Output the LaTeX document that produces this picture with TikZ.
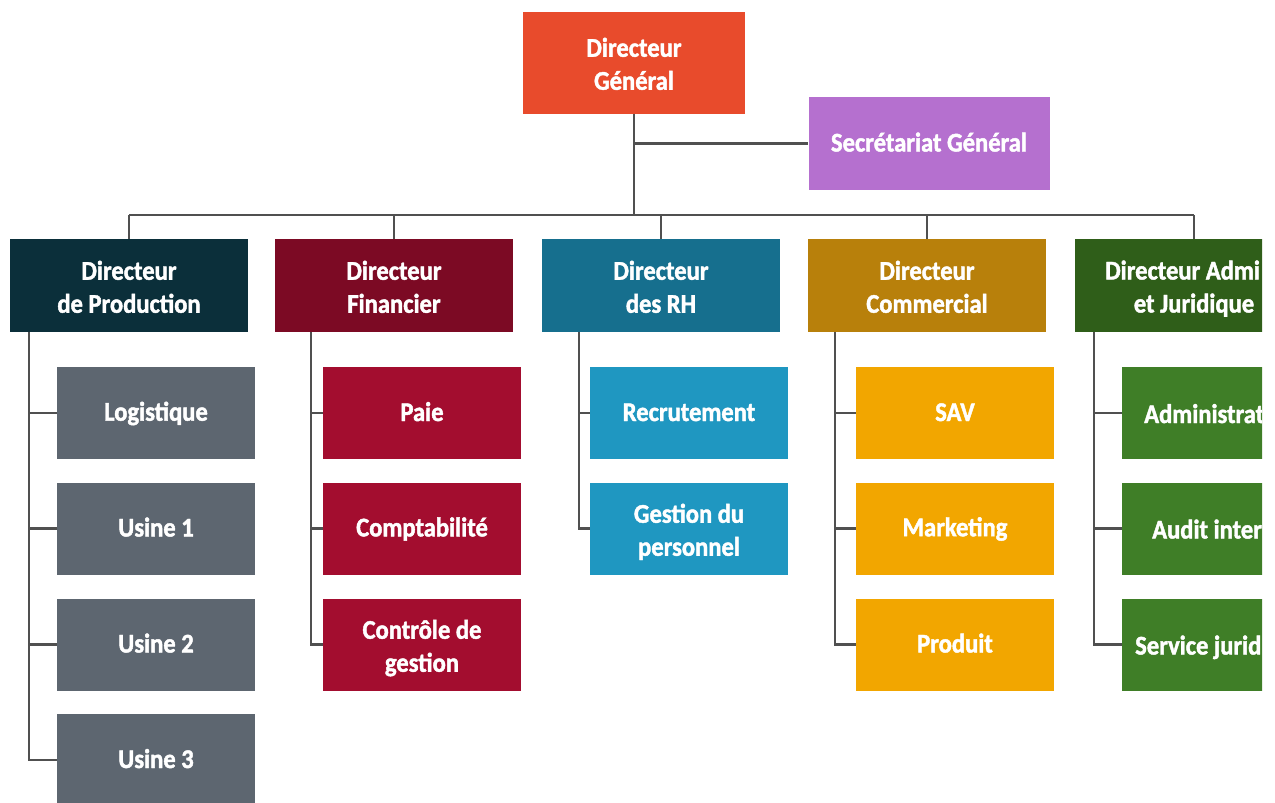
\documentclass[tikz,border=0pt]{standalone}
\usepackage{fontspec}
\setmainfont{Carlito}[FakeStretch=0.91, BoldFeatures={FakeBold=1.6}]
\definecolor{cDG}{HTML}{E84B2C}
\definecolor{cSG}{HTML}{B570CF}
\definecolor{cProd}{HTML}{0B2F3A}
\definecolor{cFin}{HTML}{7C0A24}
\definecolor{cRH}{HTML}{166F8E}
\definecolor{cCom}{HTML}{B8800B}
\definecolor{cAdm}{HTML}{2F5E19}
\definecolor{sProd}{HTML}{5D6670}
\definecolor{sFin}{HTML}{A30D2F}
\definecolor{sRH}{HTML}{1F97C1}
\definecolor{sCom}{HTML}{F2A600}
\definecolor{sAdm}{HTML}{3F7E27}
\definecolor{linegray}{HTML}{505050}
\newcommand\mytop{\rule{0pt}{27.5pt}}
\newcommand\mybot{\rule[-6pt]{0pt}{6pt}}
\newcommand\myone{\rule[-4pt]{0pt}{24pt}}
\begin{document}
\begin{tikzpicture}[x=1pt,y=-1pt,
  box/.style={rectangle, inner sep=0pt, align=center, text=white,
    font=\bfseries\fontsize{27}{33}\selectfont},
  txt/.style={inner sep=0pt, text=white, font=\bfseries\fontsize{27}{33}\selectfont},
  dirbox/.style={box, minimum width=238pt, minimum height=93pt},
  subbox/.style={box, minimum width=198pt, minimum height=92pt},
  link/.style={draw=linegray, line width=2.4pt}]
\useasboundingbox (0,0) rectangle (1275,803);
\clip (0,0) rectangle (1262,803);
% top
\node[box, fill=cDG, minimum width=222pt, minimum height=102pt] (dg) at (634,62.5) {\mytop Directeur\\Général\mybot};
\node[box, fill=cSG, minimum width=241pt, minimum height=93pt] (sg) at (929,143.5) {\myone Secrétariat Général};
% directors
\node[dirbox, fill=cProd] (prod) at (129,285.5) {\mytop Directeur\\de Production\mybot};
\node[dirbox, fill=cFin] (fin) at (394,285.5) {\mytop Directeur\\Financier\mybot};
\node[dirbox, fill=cRH] (rh) at (661,285.5) {\mytop Directeur\\des RH\mybot};
\node[dirbox, fill=cCom] (comm) at (927,285.5) {\mytop Directeur\\Commercial\mybot};
\node[dirbox, fill=cAdm] (adm) at (1194,285.5) {};
\node[txt, anchor=base west] (admt1) at (1105,279.5) {Directeur Admi};
\node[txt, anchor=base] (admt2) at (1194,312.5) {et Juridique};
% production
\node[subbox, fill=sProd] (log) at (156,413) {\myone Logistique};
\node[subbox, fill=sProd] (u1) at (156,528.5) {\myone Usine 1};
\node[subbox, fill=sProd] (u2) at (156,644.5) {\myone Usine 2};
\node[subbox, fill=sProd] (u3) at (156,760) {\myone Usine 3};
% finance
\node[subbox, fill=sFin] (paie) at (422,413) {\myone Paie};
\node[subbox, fill=sFin] (compta) at (422,528.5) {\myone Comptabilité};
\node[subbox, fill=sFin] (cg) at (422,644.5) {\mytop Contrôle de\\gestion\mybot};
% RH
\node[subbox, fill=sRH] (recr) at (689,413) {\myone Recrutement};
\node[subbox, fill=sRH] (gp) at (689,528.5) {\mytop Gestion du\\personnel\mybot};
% commercial
\node[subbox, fill=sCom] (sav) at (955,413) {\myone SAV};
\node[subbox, fill=sCom] (mkt) at (955,528.5) {\myone Marketing};
\node[subbox, fill=sCom] (prd) at (955,644.5) {\myone Produit};
% admin
\node[subbox, fill=sAdm] (adm1) at (1221,413) {};
\node[subbox, fill=sAdm] (adm2) at (1221,528.5) {};
\node[subbox, fill=sAdm] (adm3) at (1221,644.5) {};
\node[txt, anchor=base west] (adm1t) at (1144,423) {Administrat};
\node[txt, anchor=base west] (adm2t) at (1152,538.5) {Audit inter};
\node[txt, anchor=base west] (adm3t) at (1135,654.5) {Service jurid};
% connectors top
\coordinate (busc) at (634,215);
\draw[link] (dg.south) -- (busc);
\draw[link] (dg.south |- sg.west) -- (sg.west);
\draw[link] (prod.north |- busc) -- (adm.north |- busc);
\foreach \d in {prod,fin,rh,comm,adm} \draw[link] (\d.north |- busc) -- (\d.north);
% connectors columns
\coordinate (pv) at ([xshift=19pt]prod.south west);
\draw[link] (pv) |- (u3.west);
\foreach \c in {log,u1,u2} \draw[link] (pv |- \c.west) -- (\c.west);
\coordinate (fv) at ([xshift=36pt]fin.south west);
\draw[link] (fv) |- (cg.west);
\foreach \c in {paie,compta} \draw[link] (fv |- \c.west) -- (\c.west);
\coordinate (rv) at ([xshift=37pt]rh.south west);
\draw[link] (rv) |- (gp.west);
\draw[link] (rv |- recr.west) -- (recr.west);
\coordinate (cv) at ([xshift=27pt]comm.south west);
\draw[link] (cv) |- (prd.west);
\foreach \c in {sav,mkt} \draw[link] (cv |- \c.west) -- (\c.west);
\coordinate (av) at ([xshift=19pt]adm.south west);
\draw[link] (av) |- (adm3.west);
\foreach \c in {adm1,adm2} \draw[link] (av |- \c.west) -- (\c.west);
\end{tikzpicture}
\end{document}
